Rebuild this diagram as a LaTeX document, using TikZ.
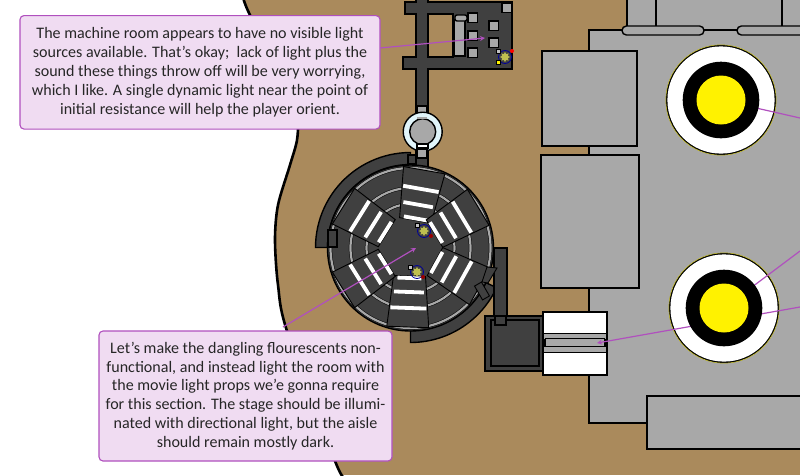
\documentclass[tikz,border=0pt]{standalone}
\usepackage{fontspec}
\setmainfont{Carlito}
\usetikzlibrary{shapes.geometric}
\definecolor{dirt}{RGB}{170,138,92}
\definecolor{slab}{RGB}{168,168,168}
\definecolor{dark}{RGB}{64,64,64}
\definecolor{noteline}{RGB}{176,80,190}
\definecolor{notefill}{RGB}{240,220,242}
\definecolor{glass}{RGB}{225,245,250}
\definecolor{lampglow}{RGB}{190,190,80}
\tikzset{
  wall/.style={draw=black,line width=1.4pt},
  room/.style={wall,fill=dark},
  block/.style={wall,fill=slab},
  seatbar/.style={draw=white,line width=3.8pt},
  floorring/.style={draw=black,line width=.5pt,double=slab,double distance=2.2pt},
  note/.style={draw=noteline,fill=notefill,line width=1.1pt,rounded corners=4pt,align=center,
    inner sep=0pt,font=\fontsize{16.05}{18.8}\selectfont,text=black!85},
  pointer/.style={draw=noteline,line width=1.2pt,-stealth},
  halo/.style={circle,draw=blue!60!black,line width=.8pt,inner sep=0pt,minimum size=13pt},
  lampstar/.style={star,star points=8,star point ratio=1.6,fill=lampglow,inner sep=0pt,minimum size=10pt},
  tag/.style={draw=black,line width=.3pt,fill=slab!70,inner sep=0pt,minimum size=4pt}
}
\newcommand{\crescent}[2]{\draw[room] plot[domain=#1:#2,samples=30] ({410.5+95*cos(\x)},{247.5+95*sin(\x)})
  -- plot[domain=#2:#1,samples=30] ({410.5+83*cos(\x)},{247.5+83*sin(\x)}) -- cycle;}
\begin{document}
\begin{tikzpicture}[x=1pt,y=-1pt]
\useasboundingbox (0,0) rectangle (800,475);
\clip (0,0) rectangle (800,475);
\fill[dirt] (0,0) rectangle (800,475);
\draw[fill=white,line width=2.6pt] plot[smooth] coordinates {(243,-3) (250,15) (285,80) (297,118) (297,140) (290,165) (278,205) (275,240) (278,285) (287,331) (335,461) (345,478)}
  -- (-5,478) -- (-5,-3) -- cycle;
% stage building
\draw[block] (627,-5) -- (627,30) -- (589,30) -- (589,423) -- (647,423) -- (647,449) -- (805,449) -- (805,-5) -- cycle;
\draw[wall] (656,-5) -- (656,26) (782,-5) -- (782,26) (704,30) -- (737,30);
\draw[block,rounded corners=4.4pt] (622,26) rectangle (704,35);
\draw[block,rounded corners=4.4pt] (737,26) rectangle (830,35);
\draw[block] (542,51) rectangle (637,146);
\draw[block] (541,155) rectangle (639,288);
\draw[block] (647,396) rectangle (805,449);
% light rigs
\coordinate (rigA) at (721,100);
\coordinate (rigB) at (724,308);
\coordinate (edgeA) at (800,118);
\coordinate (edgeB) at (800,251);
\coordinate (edgeC) at (800,307);
\coordinate (stagetip) at (597,343);
\foreach \rig in {rigA,rigB} {
  \draw[yellow!80!black,line width=.5pt,fill=black] (\rig) circle[radius=55.2pt];
  \fill[white] (\rig) circle[radius=53.6pt];
}
% machine room
\draw[room] (416,-5) -- (428,-5) -- (428,2) -- (512,2) -- (512,69) -- (428,69) -- (428,158) -- (416,158) -- (416,69) -- (403,69) -- (403,57)
  -- (416,57) -- (416,14) -- (405,14) -- (405,2) -- (416,2) -- cycle;
\draw[wall,fill=dirt] (428,14) rectangle (453,57);
\draw[wall,fill=slab] (454,20) rectangle (465,56);
\draw[wall,fill=slab,rounded corners=2pt] (455,15) rectangle (467,21);
\foreach \sx/\sy in {468/13,468/31,468/48,489/21,489/38,502/3}
  \draw[block] (\sx,\sy) rectangle ++(9.5,9.5);
\node[halo] (lampC) at (505,57) {};
\node[lampstar] (starC) at (lampC) {};
\node[circle,fill=red,inner sep=0pt,minimum size=4pt] (redC) at (512,51) {};
\node[tag] (tagC) at (498,51) {};
\node[tag,fill=yellow] (keyC) at (498,62) {};
\draw[block] (417,106) rectangle (427,115);
% airlock
\draw[wall,fill=glass] (422.7,131.7) circle[radius=19.5pt];
\draw[block] (422.7,131.7) circle[radius=13pt];
\fill[slab] (417,116.5) rectangle (427,119);
\draw[wall,fill=white] (417,144) rectangle (428,148);
\draw[block] (417,149) rectangle (427,158);
% rotunda
\coordinate (hub) at (410.5,248);
\crescent{180}{270}
\crescent{25}{90}
\draw[room] (494,248) rectangle (507,317);
\draw[room] (416,158) rectangle (428,170);
\draw[room] (485,316) rectangle (543,371);
\draw[wall] (491,320) rectangle (539,366);
\draw[room] (495,316) rectangle (506,325);
\draw[room] (hub) circle[radius=83pt];
\foreach \r in {80,60,44}
  \draw[floorring] (hub) circle[radius=\r pt];
\foreach \a in {-80,-31,29,92,148,212} {
  \begin{scope}[shift={(hub)},rotate=-\a]
    \draw[room,line width=.9pt] (28,-16) -- (79,-21) -- (79,21) -- (28,16) -- cycle;
    \draw[seatbar] (60,-18) -- (60,18) (44,-15) -- (44,15) (30,-12) -- (30,12);
  \end{scope}
}
\fill[dark] (hub) circle[radius=25pt];
\draw[room] (328,230) rectangle (337,247);
\draw[room] (408,155) rectangle (416,164);
\draw[room,line width=.9pt] (487,267) -- (497,268) -- (488,283) -- (482,282) -- cycle;
\draw[room,line width=.9pt,rotate around={30:(482,291)}] (478,283) rectangle (486,299);
\node[halo] (lampA) at (424,231) {};
\node[lampstar] (starA) at (lampA) {};
\node[circle,fill=red!60!black,inner sep=0pt,minimum size=4pt] (redA) at (431,236) {};
\node[tag] (tagA) at (417,225) {};
\node[halo] (lampB) at (417,272) {};
\node[lampstar] (starB) at (lampB) {};
\node[circle,fill=red!60!black,inner sep=0pt,minimum size=4pt] (redB) at (423,277) {};
\node[tag] (tagB) at (410,267) {};
% stage
\draw[wall,fill=white] (543,312) rectangle (607,375);
\fill[slab] (544,333.5) rectangle (606,353);
\draw[wall] (543,333.5) -- (607,333.5) (543,352.5) -- (607,352.5) (545,338.7) -- (605,338.7) (545,346.7) -- (605,346.7) (545,338.7) -- (545,346.7) (605,338.7) -- (605,346.7);
% notes
\coordinate (roomtail) at (380,48);
\coordinate (roomtip) at (485,38);
\coordinate (pittail) at (283,327);
\coordinate (pittip) at (416,248);
\draw[pointer] (roomtail) -- (roomtip);
\draw[pointer] (pittail) -- (pittip);
\draw[pointer] (edgeC) -- (stagetip);
\draw[pointer,-] (edgeA) -- (rigA);
\draw[pointer,-] (edgeB) -- (rigB);
\foreach \rig in {rigA,rigB} {
  \fill[black] (\rig) circle[radius=38.3pt];
  \fill[yellow] (\rig) circle[radius=24.5pt];
}
\node[note,minimum width=360pt,minimum height=113.5pt] (noteroom) at (200,72.3) {The machine room appears to have no visible light\\sources available. That’s okay;\ \ lack of light plus the\\sound these things throw off will be very worrying,\\which I like. A single dynamic light near the point of\\initial resistance will help the player orient.};
\node[note,minimum width=293pt,minimum height=130pt] (notepit) at (245.5,396) {Let’s make the dangling flourescents non-\\functional, and instead light the room with\\the movie light props we’e gonna require\\for this section. The stage should be illumi-\\nated with directional light, but the aisle\\should remain mostly dark.};
\end{tikzpicture}
\end{document}
